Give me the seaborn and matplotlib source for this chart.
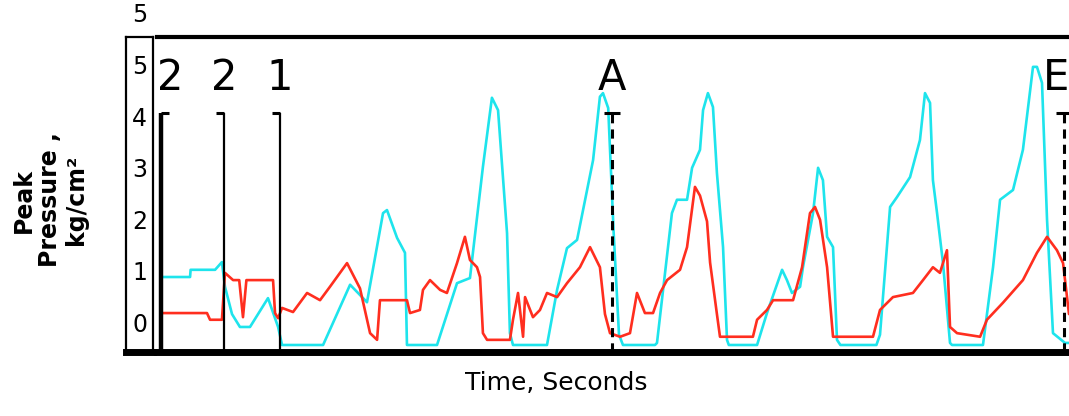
import pandas as pd
import matplotlib
matplotlib.use("Agg")
import matplotlib.pyplot as plt
import matplotlib.transforms as mtransforms
import seaborn as sns

# ----------------------------
# Data (seconds, kg/cm^2)
# ----------------------------
cyan_t = [0.006, 0.167, 0.17, 0.306, 0.344, 0.361, 0.40, 0.444, 0.5, 0.6, 0.656, 0.678,
          0.906, 1.056, 1.15, 1.239, 1.261, 1.317, 1.361, 1.372, 1.539, 1.65, 1.722, 1.794,
          1.844, 1.878, 1.928, 1.944, 1.961, 2.15, 2.206, 2.261, 2.317, 2.406, 2.444, 2.461,
          2.49, 2.52, 2.55, 2.572, 2.75, 2.761, 2.844, 2.872, 2.928, 2.956, 3.0, 3.017,
          3.044, 3.072, 3.094, 3.128, 3.15, 3.16, 3.317, 3.372, 3.456, 3.483, 3.511, 3.556,
          3.572, 3.628, 3.656, 3.683, 3.706, 3.739, 3.761, 3.78, 3.98, 4.0, 4.056, 4.094,
          4.167, 4.222, 4.25, 4.278, 4.294, 4.317, 4.35, 4.389, 4.40, 4.572, 4.628, 4.667,
          4.739, 4.794, 4.85, 4.872, 4.90, 4.928, 4.961, 5.028, 5.05]
cyan_p = [1.32, 1.32, 1.46, 1.46, 1.61, 1.13, 0.6, 0.35, 0.35, 0.91, 0.35, 0.0,
          0.0, 1.17, 0.83, 2.56, 2.62, 2.08, 1.79, 0.0, 0.0, 1.20, 1.30, 3.46,
          4.80, 4.56, 2.17, 0.23, 0.0, 0.0, 1.07, 1.88, 2.04, 3.59, 4.82, 4.89,
          4.6, 2.2, 0.2, 0.0, 0.0, 0.04, 2.56, 2.82, 2.82, 3.44, 3.79, 4.56,
          4.89, 4.62, 3.34, 1.90, 0.10, 0.0, 0.0, 0.62, 1.46, 1.26, 1.01, 1.13,
          1.51, 2.56, 3.44, 3.20, 2.10, 1.90, 0.10, 0.0, 0.0, 0.2, 2.68, 2.87,
          3.26, 3.98, 4.89, 4.70, 3.20, 2.56, 1.59, 0.04, 0.0, 0.0, 1.51, 2.82,
          3.01, 3.79, 5.40, 5.40, 5.09, 2.43, 0.23, 0.04, 0.04]

red_t = [0.006, 0.261, 0.278, 0.344, 0.361, 0.406, 0.44, 0.461, 0.48, 0.628, 0.639, 0.656,
         0.678, 0.739, 0.817, 0.889, 0.944, 1.039, 1.111, 1.167, 1.206, 1.222, 1.372, 1.389,
         1.444, 1.461, 1.5, 1.556, 1.594, 1.65, 1.694, 1.722, 1.761, 1.778, 1.794, 1.817,
         1.944, 1.961, 1.989, 2.017, 2.028, 2.072, 2.111, 2.15, 2.206, 2.261, 2.333, 2.389,
         2.444, 2.472, 2.5, 2.556, 2.611, 2.65, 2.694, 2.739, 2.778, 2.817, 2.889, 2.928,
         2.972, 3.0, 3.039, 3.056, 3.094, 3.111, 3.294, 3.317, 3.372, 3.406, 3.517, 3.567,
         3.611, 3.639, 3.667, 3.706, 3.739, 3.961, 4.0, 4.072, 4.183, 4.239, 4.294, 4.333,
         4.372, 4.389, 4.428, 4.556, 4.594, 4.683, 4.794, 4.872, 4.928, 4.983, 5.017, 5.039,
         5.05]
red_p = [0.62, 0.62, 0.49, 0.49, 1.40, 1.26, 1.26, 0.54, 1.26, 1.26, 0.62, 0.52,
         0.72, 0.64, 1.01, 0.87, 1.13, 1.59, 1.10, 0.23, 0.10, 0.87, 0.87, 0.62,
         0.68, 1.07, 1.26, 1.07, 1.01, 1.59, 2.10, 1.65, 1.51, 1.32, 0.23, 0.10,
         0.10, 0.49, 1.01, 0.16, 0.93, 0.54, 0.68, 1.01, 0.93, 1.20, 1.51, 1.90,
         1.51, 0.6, 0.23, 0.16, 0.23, 1.01, 0.62, 0.62, 1.01, 1.26, 1.46, 1.90,
         3.07, 2.9, 2.4, 1.6, 0.6, 0.16, 0.16, 0.49, 0.68, 0.87, 0.87, 1.51,
         2.56, 2.68, 2.43, 1.51, 0.16, 0.16, 0.68, 0.93, 1.01, 1.26, 1.51, 1.40,
         1.84, 0.35, 0.23, 0.16, 0.49, 0.82, 1.26, 1.79, 2.10, 1.84, 1.59, 0.93,
         0.6]

# event markers along the top
marker_t = [0.006, 0.355, 0.667, 2.51, 5.02]
marker_labels = ["2", "2", "1", "A", "E"]

y_ticks = [0, 1, 2, 3, 4, 5]
y_tick_labels = ["0", "1", "2", "3", "4", "5"]
x_ticks = [1, 2, 3, 4]

CYAN = "#1ee4ec"
RED = "#ff2e1f"

# ----------------------------
# Figure
# ----------------------------
sns.set_style("white")
plt.rcParams["font.family"] = ["DejaVu Sans"]
plt.rcParams["text.color"] = "black"
plt.rcParams["axes.labelcolor"] = "black"
plt.rcParams["axes.edgecolor"] = "black"

fig = plt.figure(figsize=(10.69, 4.16), dpi=100)
ax = fig.add_axes([157 / 1069, 64 / 416, 912 / 1069, 315 / 416])
ax_box = fig.add_axes([126 / 1069, 64 / 416, 27 / 1069, 315 / 416], sharey=ax)

cyan_df = pd.DataFrame({"t": cyan_t, "p": cyan_p})
red_df = pd.DataFrame({"t": red_t, "p": red_p})

sns.lineplot(data=cyan_df, x="t", y="p", ax=ax, color=CYAN, lw=1.9,
             estimator=None, sort=False)
sns.lineplot(data=red_df, x="t", y="p", ax=ax, color=RED, lw=1.9,
             estimator=None, sort=False)

ax.set_xlim(-0.0167, 5.05)
ax.set_ylim(-0.136, 5.98)

# event lines with little caps at the top
cap_top = 4.5
cap_w = 0.045
last = len(marker_t) - 1
for i, (t, lab) in enumerate(zip(marker_t, marker_labels)):
    dashed = lab.isalpha()
    lw = 3.2 if i == 0 else (2.2 if dashed else 1.6)
    ax.vlines(t, -0.136, cap_top, color="black", lw=lw,
              linestyles=(0, (3, 2)) if dashed else "solid", zorder=3)
    if dashed:
        ax.hlines(cap_top, t - cap_w, t + cap_w, color="black", lw=2.2, zorder=3)
    elif i == 0:
        ax.hlines(cap_top, t, t + cap_w, color="black", lw=2.2, zorder=3)
    else:
        ax.hlines(cap_top, t - cap_w, t, color="black", lw=2.2, zorder=3)
    dx = 0.05 if i == 0 else (-0.04 if i == last else 0)
    ax.text(t + dx, 5.18, lab, ha="center", va="center",
            fontsize=30, color="black", zorder=4)

# axes frame: thick top and bottom rules
sns.despine(ax=ax, left=True, right=True, top=False, bottom=False)
ax.spines["top"].set_linewidth(3.0)
ax.spines["bottom"].set_linewidth(5.0)
ax.spines["top"].set_color("black")
ax.spines["bottom"].set_color("black")
ax.set_yticks([])
ax.set_xticks(x_ticks)
ax.tick_params(axis="x", direction="in", length=7, width=2, labelbottom=False,
               color="black")
ax.set_ylabel("")
ax.set_xlabel("Time, Seconds", fontsize=18, color="black")
ax.xaxis.set_label_coords(0.4375, -0.06)

# boxed tick-label column on the left
for s in ax_box.spines.values():
    s.set_visible(True)
    s.set_color("black")
    s.set_linewidth(1.6)
ax_box.spines["bottom"].set_linewidth(5.0)
ax_box.set_xticks([])
ax_box.tick_params(axis="y", left=False, labelleft=False)
lab_trans = mtransforms.offset_copy(
    mtransforms.blended_transform_factory(ax_box.transAxes, ax_box.transData),
    fig=fig, x=0, y=20, units="dots")
for v, lab in zip(y_ticks, y_tick_labels):
    ax_box.text(0.5, v, lab, transform=lab_trans, ha="center", va="center",
                fontsize=17, color="black")
fig.text(140 / 1069, 1 - 15 / 416, "5", ha="center", va="center", fontsize=17,
         color="black")

fig.text(50 / 1069, 1 - 200 / 416, "Peak\nPressure ,\nkg/cm\u00b2", rotation=90,
         ha="center", va="center", fontsize=17, fontweight="bold", linespacing=1.12,
         color="black")

fig.savefig("out.png", dpi=100)
plt.close(fig)
